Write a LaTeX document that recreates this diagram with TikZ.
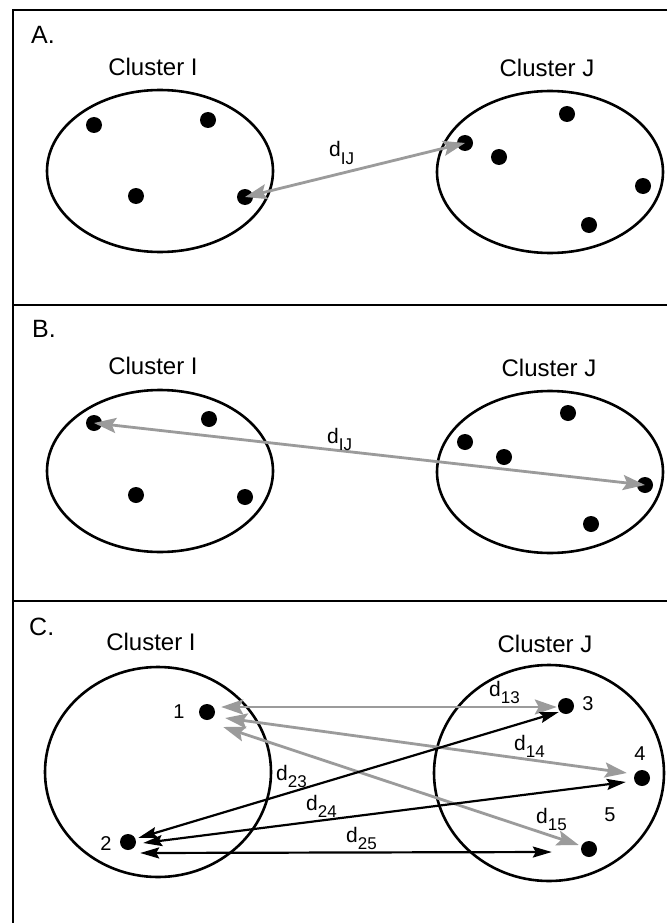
\documentclass[tikz,border=0pt]{standalone}
\usepackage{fontspec}
\setmainfont{Liberation Sans}
\usetikzlibrary{arrows.meta,calc}
\definecolor{agray}{RGB}{155,155,155}
\newcommand\dsub[1]{{\fontsize{21}{24}\selectfont d}\raisebox{-7pt}{\fontsize{17}{20}\selectfont #1}}
\tikzset{
  frameline/.style={line width=1.7pt},
  clustershape/.style={line width=2.6pt},
  dot/.style={circle, fill=black, inner sep=0pt, minimum size=16pt},
  ttl/.style={font=\fontsize{24}{28}\selectfont, inner sep=0pt, anchor=base},
  plabel/.style={font=\fontsize{25}{29}\selectfont, inner sep=0pt, anchor=base west},
  num/.style={font=\fontsize{20}{23}\selectfont, inner sep=0pt},
  dlab/.style={inner sep=0pt, anchor=base west},
  garrow/.style={draw=agray, line width=2.8pt, {Stealth[length=22pt,width=15pt,inset=4pt]}-{Stealth[length=22pt,width=15pt,inset=4pt]}},
  barrow/.style={draw=black, line width=2.2pt, {Stealth[length=19pt,width=11pt,inset=3pt]}-{Stealth[length=19pt,width=11pt,inset=3pt]}},
}
\begin{document}
\begin{tikzpicture}[x=1pt,y=-1pt]
\useasboundingbox (0,0) rectangle (667,923);
\fill[white] (0,0) rectangle (667,923);
% frame
\draw[frameline] (667,10) -- (13,10) -- (13,923);
\draw[frameline] (13,305) -- (667,305);
\draw[frameline] (13,601) -- (667,601);

% ---------- Panel A ----------
\node[plabel] (labA) at (31,44) {A.};
\node[ttl] (ciA) at (153,76) {Cluster I};
\node[ttl] (cjA) at (547,77) {Cluster J};
\draw[clustershape] (160,171) ellipse [x radius=113, y radius=81];
\draw[clustershape] (550,172) ellipse [x radius=113, y radius=81];
\node[dot] (a1) at (94,125) {};
\node[dot] (a2) at (208,120) {};
\node[dot] (a3) at (136,196) {};
\node[dot] (a4) at (245,197) {};
\node[dot] (aj1) at (465,143) {};
\node[dot] (aj2) at (499,157) {};
\node[dot] (aj3) at (567,114) {};
\node[dot] (aj4) at (643,186) {};
\node[dot] (aj5) at (589,225) {};
\draw[garrow] (a4.center) -- (aj1.center);
\node[dlab] (dA) at (329,157) {\dsub{IJ}};

% ---------- Panel B ----------
\node[plabel] (labB) at (32,337) {B.};
\node[ttl] (ciB) at (153,374) {Cluster I};
\node[ttl] (cjB) at (549,376) {Cluster J};
\draw[clustershape] (160,471) ellipse [x radius=113, y radius=81];
\draw[clustershape] (550,472) ellipse [x radius=113, y radius=81];
\node[dot] (bi1) at (94,423) {};
\node[dot] (bi2) at (209,419) {};
\node[dot] (bi3) at (136,495) {};
\node[dot] (bi4) at (245,497) {};
\node[dot] (bj1) at (465,442) {};
\node[dot] (bj2) at (504,457) {};
\node[dot] (bj3) at (568,413) {};
\node[dot] (bj4) at (645,485) {};
\node[dot] (bj5) at (591,524) {};
\draw[garrow] (bi1.center) -- (bj4.center);
\node[dlab] (dB) at (327,443) {\dsub{IJ}};

% ---------- Panel C ----------
\node[plabel] (labC) at (29,635) {C.};
\node[ttl] (ciC) at (151,650) {Cluster I};
\node[ttl] (cjC) at (545,652) {Cluster J};
\draw[clustershape] (158,772) ellipse [x radius=113, y radius=105];
\draw[clustershape] (549,773) ellipse [x radius=115, y radius=108];
\node[dot] (c1) at (207,712) {};
\node[dot] (c2) at (128,842) {};
\node[dot] (c3) at (566,706) {};
\node[dot] (c4) at (642,778) {};
\node[dot] (c5) at (589,849) {};
\node[num] (n1) at (179,712) {1};
\node[num] (n2) at (106,844) {2};
\node[num] (n3) at (588,704) {3};
\node[num] (n4) at (640,754) {4};
\node[num] (n5) at (610,815) {5};
% gray arrows from 1
\draw[garrow] ($(c1.east)+(6,-5)$) -- ($(c3.west)+(-1,1)$);
\draw[garrow] ($(c1.east)+(10,6)$) -- ($(c4.west)+(-7,-5)$);
\draw[garrow] ($(c1.east)+(8,15)$) -- ($(c5.west)+(-2,-4)$);
% black arrows from 2
\draw[barrow] ($(c2.east)+(2,-4)$) -- ($(c3.west)+(1,6)$);
\draw[barrow] ($(c2.east)+(7,1)$) -- ($(c4.west)+(-8,4)$);
\draw[barrow] ($(c2.east)+(4,11)$) -- ($(c5.west)+(-29,3)$);
\node[dlab] (d13) at (489,696) {\dsub{13}};
\node[dlab] (d14) at (514,750) {\dsub{14}};
\node[dlab] (d15) at (536,823) {\dsub{15}};
\node[dlab] (d23) at (276,780) {\dsub{23}};
\node[dlab] (d24) at (306,810) {\dsub{24}};
\node[dlab] (d25) at (346,842) {\dsub{25}};
\end{tikzpicture}
\end{document}
